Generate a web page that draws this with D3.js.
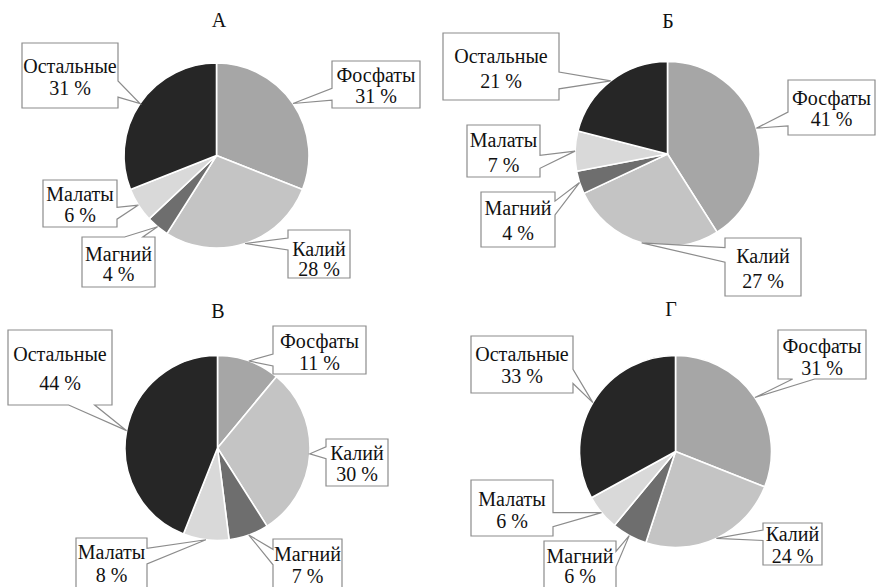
<!DOCTYPE html>
<html>
<head>
<meta charset="utf-8">
<script src="https://cdn.jsdelivr.net/npm/d3@7"></script>
<style>
  html, body { margin: 0; padding: 0; background: #fff; }
  svg { display: block; }
  svg text { font-family: "Liberation Serif", "DejaVu Serif", "Times New Roman", serif; }
</style>
</head>
<body>
<svg id="chart" width="876" height="587"></svg>
<script>
// Доли компонентов (%) для четырёх вариантов
const categories = ["Фосфаты", "Калий", "Магний", "Малаты", "Остальные"];
const panelTitles = ["А", "Б", "В", "Г"];
const valuesA = [31, 28, 4, 6, 31];
const valuesB = [41, 27, 4, 7, 21];
const valuesV = [11, 30, 7, 8, 44];
const valuesG = [31, 24, 6, 6, 33];
const sliceColors = ["#a6a6a6", "#c4c4c4", "#6e6e6e", "#d9d9d9", "#262626"];

// Геометрия панелей: центр круга, радиус, подпись, рамки выносок (в порядке категорий)
// box: [x, y, w, h, базовая линия 1-й строки, базовая линия 2-й строки] относительно верха рамки
const panels = [
  { values: valuesA, cx: 216.5, cy: 155.5, r: 92.5, tx: 219, ty: 27,
    boxes: [[332, 61, 88, 47, 21, 42], [288, 230, 62, 48, 26, 46], [82, 237, 73, 50, 24, 44],
            [43, 180, 74, 47, 21, 42], [22, 43, 96, 65, 30, 52]] },
  { values: valuesB, cx: 667.5, cy: 154, r: 92.5, tx: 668, ty: 28,
    boxes: [[788, 80, 87, 55, 25, 46], [725, 238, 76, 58, 25, 50], [481, 192, 74, 55, 23, 48],
            [467, 125, 73, 52, 22, 47], [443, 33, 116, 67, 30, 55]] },
  { values: valuesV, cx: 217.5, cy: 448, r: 92.5, tx: 218, ty: 318,
    boxes: [[273, 326, 93, 48, 22, 44], [326, 439, 62, 47, 21, 42], [273, 539, 69, 62, 22, 44],
            [76, 538, 71, 62, 21, 44], [8, 330, 104, 75, 31, 60]] },
  { values: valuesG, cx: 675.5, cy: 451.5, r: 96, tx: 671, ty: 316,
    boxes: [[778, 330, 88, 49, 23, 45], [763, 523, 59, 42, 18, 40], [544, 541, 72, 62, 22, 42],
            [471, 480, 82, 56, 26, 48], [471, 336, 102, 57, 25, 47]] }
];

const svg = d3.select("#chart");
const color = d3.scaleOrdinal().domain(categories).range(sliceColors);
const pie = d3.pie().sort(null).value(d => d.value);

// Контур прямоугольной выноски с треугольным хвостом к точке tip
function calloutPath(x, y, w, h, tip) {
  const cx = x + w / 2, cy = y + h / 2;
  const dx = tip[0] - cx, dy = tip[1] - cy;
  const horiz = Math.abs(dx) / w > Math.abs(dy) / h;
  const p = d3.path();
  p.moveTo(x, y);
  if (!horiz && dy < 0) {
    const a = dx < 0 ? 2 / 12 : 7 / 12, b = dx < 0 ? 5 / 12 : 10 / 12;
    p.lineTo(x + w * a, y); p.lineTo(tip[0], tip[1]); p.lineTo(x + w * b, y);
  }
  p.lineTo(x + w, y);
  if (horiz && dx > 0) {
    const a = dy < 0 ? 2 / 12 : 7 / 12, b = dy < 0 ? 5 / 12 : 10 / 12;
    p.lineTo(x + w, y + h * a); p.lineTo(tip[0], tip[1]); p.lineTo(x + w, y + h * b);
  }
  p.lineTo(x + w, y + h);
  if (!horiz && dy > 0) {
    const a = dx < 0 ? 2 / 12 : 7 / 12, b = dx < 0 ? 5 / 12 : 10 / 12;
    p.lineTo(x + w * b, y + h); p.lineTo(tip[0], tip[1]); p.lineTo(x + w * a, y + h);
  }
  p.lineTo(x, y + h);
  if (horiz && dx < 0) {
    const a = dy < 0 ? 2 / 12 : 7 / 12, b = dy < 0 ? 5 / 12 : 10 / 12;
    p.lineTo(x, y + h * b); p.lineTo(tip[0], tip[1]); p.lineTo(x, y + h * a);
  }
  p.closePath();
  return p.toString();
}

panels.forEach((panel, i) => {
  const data = categories.map((c, k) => ({ name: c, value: panel.values[k] }));
  const arcs = pie(data);
  const arc = d3.arc().innerRadius(0).outerRadius(panel.r);

  svg.append("text")
    .attr("x", panel.tx).attr("y", panel.ty)
    .attr("text-anchor", "middle")
    .attr("font-size", 20).attr("fill", "#111")
    .text(panelTitles[i]);

  const g = svg.append("g").attr("transform", `translate(${panel.cx},${panel.cy})`);
  g.selectAll("path.slice")
    .data(arcs)
    .join("path")
    .attr("class", "slice")
    .attr("d", arc)
    .attr("fill", d => color(d.data.name))
    .attr("stroke", "#fff")
    .attr("stroke-width", 1.6)
    .attr("stroke-linejoin", "round");

  // Выноски с названием и долей
  const labels = svg.append("g");
  arcs.forEach((d, k) => {
    const [bx, by, bw, bh, l1, l2] = panel.boxes[k];
    const mid = (d.startAngle + d.endAngle) / 2;
    const tip = [panel.cx + panel.r * Math.sin(mid), panel.cy - panel.r * Math.cos(mid)];
    labels.append("path")
      .attr("d", calloutPath(bx, by, bw, bh, tip))
      .attr("fill", "#fff")
      .attr("stroke", "#8c8c8c")
      .attr("stroke-width", 1.2)
      .attr("stroke-linejoin", "miter");
    const t = labels.append("text")
      .attr("text-anchor", "middle")
      .attr("font-size", 20).attr("fill", "#111");
    t.append("tspan").attr("x", bx + bw / 2).attr("y", by + l1).text(d.data.name);
    t.append("tspan").attr("x", bx + bw / 2).attr("y", by + l2).text(`${d.data.value} %`);
  });
});
</script>
</body>
</html>
